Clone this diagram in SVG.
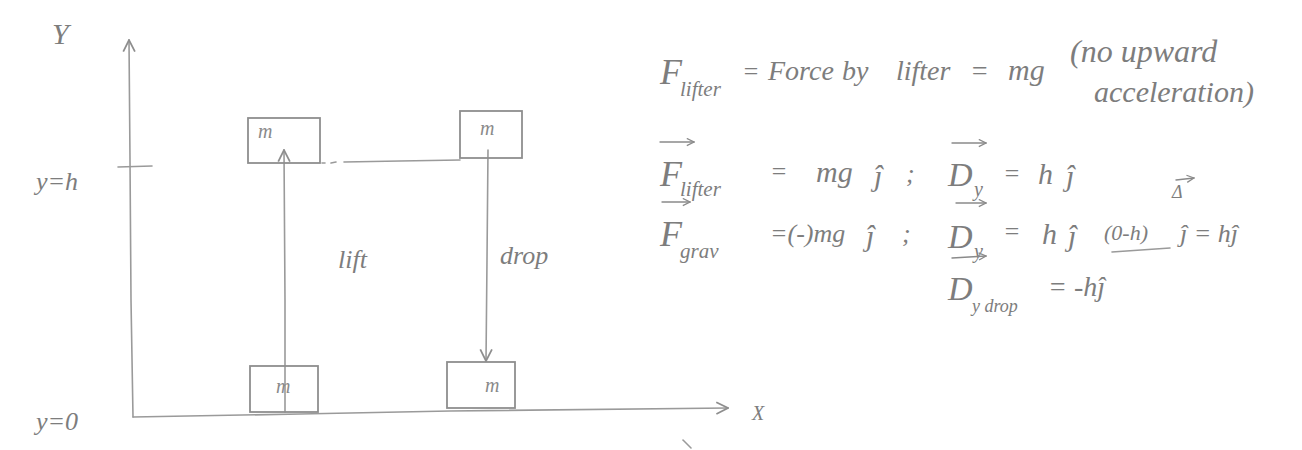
<svg xmlns="http://www.w3.org/2000/svg" width="1302" height="450" viewBox="0 0 1302 450">
<defs>
<style>
.ln{fill:none;stroke:#9a9a9a;stroke-width:1.6;stroke-linecap:round;stroke-linejoin:round}
.bx{fill:none;stroke:#8e8e8e;stroke-width:1.8}
.t{font-family:"Liberation Serif",serif;font-style:italic;fill:#7d7d7d}
.m{font-family:"Liberation Serif",serif;font-style:italic;fill:#8a8a8a;font-size:20px}
.va{fill:none;stroke:#8a8a8a;stroke-width:1.4;stroke-linecap:round}
</style>
<marker id="open" viewBox="0 0 10 10" refX="9" refY="5" markerWidth="9" markerHeight="9" orient="auto" markerUnits="userSpaceOnUse">
<path d="M1,1 L9,5 L1,9" fill="none" stroke="#8a8a8a" stroke-width="1.4"/>
</marker>
<marker id="ax" viewBox="0 0 12 12" refX="11" refY="6" markerWidth="14" markerHeight="14" orient="auto" markerUnits="userSpaceOnUse">
<path d="M1,1 L11,6 L1,11" fill="none" stroke="#8e8e8e" stroke-width="1.5"/>
</marker>
</defs>
<rect width="1302" height="450" fill="#ffffff"/>

<g id="connectors">
<path class="ln" d="M133,417 L131,300 L130,160 L129,40" marker-end="url(#ax)"/>
<path class="ln" d="M133,417 L300,414 L450,411 L728,408" marker-end="url(#ax)"/>
<path class="ln" d="M118,167 L152,166"/>
<path class="ln" d="M322,163 L325,163 M331,163 L336,162 M344,162 L400,161 L460,160"/>
<path class="ln" d="M285,412 L285,300 L284,150" marker-end="url(#ax)"/>
<path class="ln" d="M488,150 L487,260 L486,361" marker-end="url(#ax)"/>
<path class="ln" d="M683,440 L691,448"/>
</g>

<g id="node-top-left">
<rect class="bx" x="248" y="118" width="72" height="45"/>
<text class="m" x="258" y="138">m</text>
</g>
<g id="node-top-right">
<rect class="bx" x="460" y="111" width="62" height="47"/>
<text class="m" x="480" y="135">m</text>
</g>
<g id="node-bottom-left">
<rect class="bx" x="250" y="366" width="68" height="46"/>
<text class="m" x="276" y="393">m</text>
</g>
<g id="node-bottom-right">
<rect class="bx" x="447" y="362" width="68" height="46"/>
<text class="m" x="485" y="392">m</text>
</g>

<g id="axis-labels">
<text class="t" x="52" y="44" font-size="30">Y</text>
<text class="t" x="752" y="420" font-size="20">X</text>
<text class="t" x="36" y="190" font-size="26">y=h</text>
<text class="t" x="36" y="430" font-size="26">y=0</text>
<text class="t" x="338" y="268" font-size="26">lift</text>
<text class="t" x="500" y="264" font-size="26">drop</text>
</g>

<g id="equations">
<text class="t" x="660" y="84" font-size="36">F</text>
<text class="t" x="680" y="96" font-size="21">lifter</text>
<text class="t" x="742" y="80" font-size="26">=</text>
<text class="t" x="768" y="80" font-size="28">Force</text>
<text class="t" x="842" y="80" font-size="28">by</text>
<text class="t" x="896" y="80" font-size="28">lifter</text>
<text class="t" x="970" y="80" font-size="28">=</text>
<text class="t" x="1008" y="80" font-size="30">mg</text>
<text class="t" x="1070" y="62" font-size="32">(no upward</text>
<text class="t" x="1094" y="102" font-size="30">acceleration)</text>

<path class="va" d="M660,142 L694,142" marker-end="url(#open)"/>
<text class="t" x="660" y="186" font-size="36">F</text>
<text class="t" x="680" y="196" font-size="21">lifter</text>
<text class="t" x="770" y="180" font-size="26">=</text>
<text class="t" x="816" y="182" font-size="30">mg</text>
<text class="t" x="874" y="186" font-size="30">ĵ</text>
<text class="t" x="906" y="182" font-size="26">;</text>
<path class="va" d="M952,143 L986,143" marker-end="url(#open)"/>
<text class="t" x="948" y="186" font-size="34">D</text>
<text class="t" x="974" y="196" font-size="20">y</text>
<text class="t" x="1003" y="182" font-size="26">=</text>
<text class="t" x="1038" y="184" font-size="30">h</text>
<text class="t" x="1066" y="186" font-size="30">ĵ</text>

<path class="va" d="M662,202 L690,202" marker-end="url(#open)"/>
<text class="t" x="660" y="246" font-size="36">F</text>
<text class="t" x="680" y="258" font-size="21">grav</text>
<text class="t" x="770" y="242" font-size="26">=(-)mg</text>
<text class="t" x="866" y="246" font-size="30">ĵ</text>
<text class="t" x="902" y="242" font-size="26">;</text>
<path class="va" d="M956,203 L986,203" marker-end="url(#open)"/>
<text class="t" x="948" y="248" font-size="34">D</text>
<text class="t" x="974" y="258" font-size="20">y</text>
<text class="t" x="1003" y="240" font-size="26">=</text>
<text class="t" x="1042" y="244" font-size="30">h</text>
<text class="t" x="1068" y="246" font-size="30">ĵ</text>
<text class="t" x="1104" y="240" font-size="22">(0-h)</text>
<path class="va" d="M1176,180 L1194,178" marker-end="url(#open)"/>
<text class="t" x="1172" y="198" font-size="18">Δ</text>
<text class="t" x="1180" y="242" font-size="26">ĵ = hĵ</text>
<path class="ln" d="M1112,252 L1170,248"/>

<path class="va" d="M952,258 L986,256" marker-end="url(#open)"/>
<text class="t" x="948" y="300" font-size="34">D</text>
<text class="t" x="972" y="312" font-size="18">y drop</text>
<text class="t" x="1048" y="296" font-size="28">= -hĵ</text>
</g>
</svg>
